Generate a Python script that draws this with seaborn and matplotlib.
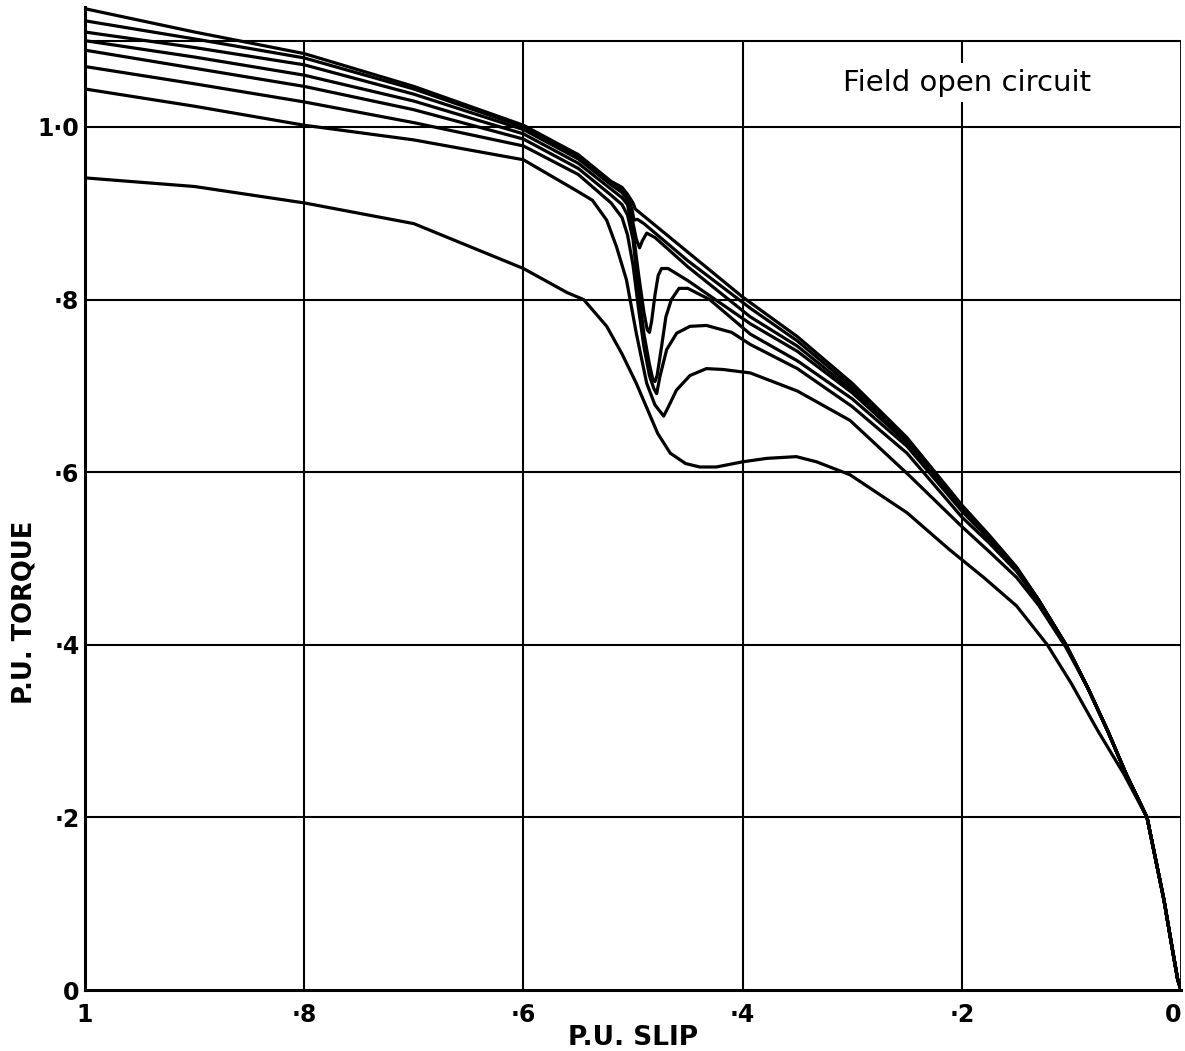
import numpy as np
import pandas as pd
import matplotlib
matplotlib.use("Agg")
import matplotlib.pyplot as plt
import seaborn as sns

# slip / torque (slip runs 1 -> 0)
tail_slip = [0.085, 0.0668, 0.05, 0.031, 0.0155, 0.0077, 0.003, 0.0]
tail_torque = [0.350, 0.300, 0.250, 0.200, 0.104, 0.046, 0.012, 0.0]

slip_a = [1.0, 0.9, 0.8, 0.7, 0.6, 0.55, 0.52, 0.51, 0.505, 0.50, 0.498, 0.45, 0.40,
          0.35, 0.30, 0.25, 0.20, 0.175, 0.15, 0.13, 0.105]
torque_a = [1.137, 1.110, 1.085, 1.047, 1.002, 0.968, 0.937, 0.930, 0.922, 0.912, 0.905, 0.855, 0.803,
            0.757, 0.703, 0.640, 0.562, 0.527, 0.490, 0.452, 0.400]

slip_b = [1.0, 0.9, 0.8, 0.7, 0.6, 0.55, 0.52, 0.51, 0.505, 0.501, 0.499, 0.496, 0.49, 0.45,
          0.393, 0.35, 0.30, 0.25, 0.20, 0.175, 0.15, 0.13, 0.105]
torque_b = [1.123, 1.102, 1.080, 1.044, 1.000, 0.966, 0.935, 0.928, 0.920, 0.905, 0.892, 0.893, 0.888, 0.845,
            0.790, 0.752, 0.699, 0.638, 0.560, 0.526, 0.489, 0.452, 0.400]

slip_c = [1.0, 0.9, 0.8, 0.7, 0.6, 0.55, 0.52, 0.51, 0.505, 0.501, 0.497, 0.494, 0.4915, 0.4875, 0.48, 0.45,
          0.393, 0.35, 0.30, 0.25, 0.20, 0.175, 0.15, 0.13, 0.105]
torque_c = [1.110, 1.092, 1.072, 1.038, 0.997, 0.963, 0.933, 0.924, 0.915, 0.895, 0.870, 0.860, 0.868, 0.877, 0.872, 0.838,
            0.780, 0.746, 0.695, 0.636, 0.559, 0.525, 0.489, 0.452, 0.400]

slip_d = [1.0, 0.9, 0.8, 0.7, 0.6, 0.55, 0.52, 0.51, 0.505, 0.50, 0.495, 0.49, 0.487, 0.485, 0.483, 0.480,
          0.477, 0.474, 0.468, 0.45, 0.393, 0.35, 0.30, 0.25, 0.20, 0.175, 0.15, 0.13, 0.105]
torque_d = [1.100, 1.081, 1.060, 1.030, 0.992, 0.958, 0.928, 0.918, 0.910, 0.880, 0.830, 0.785, 0.765, 0.762, 0.775, 0.805,
            0.828, 0.836, 0.836, 0.822, 0.772, 0.740, 0.692, 0.634, 0.557, 0.524, 0.488, 0.452, 0.400]

slip_e = [1.0, 0.9, 0.8, 0.7, 0.6, 0.55, 0.52, 0.51, 0.505, 0.50, 0.495, 0.49, 0.485, 0.482, 0.480, 0.478,
          0.474, 0.470, 0.465, 0.458, 0.45, 0.43, 0.393, 0.35, 0.30, 0.25, 0.20, 0.175, 0.15, 0.13, 0.105]
torque_e = [1.089, 1.068, 1.047, 1.020, 0.986, 0.952, 0.921, 0.910, 0.898, 0.870, 0.810, 0.760, 0.725, 0.708, 0.705, 0.712,
            0.745, 0.780, 0.800, 0.813, 0.813, 0.800, 0.760, 0.729, 0.685, 0.630, 0.555, 0.522, 0.487, 0.451, 0.400]

slip_f = [1.0, 0.9, 0.8, 0.7, 0.6, 0.55, 0.52, 0.51, 0.505, 0.50, 0.495, 0.49, 0.485, 0.481, 0.4784, 0.4754,
          0.4693, 0.4602, 0.448, 0.433, 0.41, 0.393, 0.35, 0.30, 0.25, 0.20, 0.175, 0.15, 0.13, 0.105]
torque_f = [1.070, 1.050, 1.029, 1.005, 0.978, 0.945, 0.912, 0.895, 0.875, 0.840, 0.790, 0.745, 0.712, 0.697, 0.691, 0.711,
            0.742, 0.761, 0.769, 0.770, 0.762, 0.748, 0.720, 0.676, 0.622, 0.548, 0.518, 0.485, 0.450, 0.399]

slip_g = [1.0, 0.9, 0.8, 0.7, 0.6, 0.55, 0.537, 0.524, 0.515, 0.506, 0.497, 0.4875, 0.48, 0.472, 0.468, 0.4604,
          0.448, 0.433, 0.418, 0.393, 0.35, 0.302, 0.247, 0.20, 0.175, 0.15, 0.13, 0.105]
torque_g = [1.044, 1.024, 1.002, 0.985, 0.962, 0.925, 0.915, 0.892, 0.861, 0.823, 0.761, 0.703, 0.678, 0.665, 0.675, 0.695,
            0.712, 0.720, 0.719, 0.715, 0.694, 0.660, 0.595, 0.537, 0.508, 0.478, 0.446, 0.397]

slip_h = [1.0, 0.9, 0.8, 0.7, 0.6, 0.56, 0.545, 0.524, 0.51, 0.497, 0.4775, 0.466, 0.452, 0.439, 0.424, 0.40,
          0.378, 0.351, 0.3325, 0.302, 0.25, 0.211, 0.18, 0.15, 0.122, 0.10, 0.0757, 0.052, 0.031]
torque_h = [0.941, 0.931, 0.912, 0.888, 0.836, 0.808, 0.800, 0.769, 0.737, 0.703, 0.645, 0.622, 0.610, 0.606, 0.606, 0.612,
            0.616, 0.618, 0.612, 0.597, 0.553, 0.510, 0.478, 0.445, 0.400, 0.355, 0.300, 0.250, 0.200]

x_ticks = [1.0, 0.8, 0.6, 0.4, 0.2, 0.0]
x_labels = ["1", "·8", "·6", "·4", "·2", "0"]
y_ticks = [0.0, 0.2, 0.4, 0.6, 0.8, 1.0]
y_labels = ["0", "·2", "·4", "·6", "·8", "1·0"]

curves = {
    "a": (slip_a + tail_slip, torque_a + tail_torque),
    "b": (slip_b + tail_slip, torque_b + tail_torque),
    "c": (slip_c + tail_slip, torque_c + tail_torque),
    "d": (slip_d + tail_slip, torque_d + tail_torque),
    "e": (slip_e + tail_slip, torque_e + tail_torque),
    "f": (slip_f + tail_slip, torque_f + tail_torque),
    "g": (slip_g + tail_slip, torque_g + tail_torque),
    "h": (slip_h + tail_slip[4:], torque_h + tail_torque[4:]),
}
rows = []
for name, (s, t) in curves.items():
    for i, (xv, yv) in enumerate(zip(s, t)):
        rows.append((name, i, xv, yv))
df = pd.DataFrame(rows, columns=["curve", "idx", "slip", "torque"])

sns.set_style("white")
plt.rcParams["font.family"] = ["DejaVu Sans"]
plt.rcParams["text.color"] = "black"
plt.rcParams["axes.labelcolor"] = "black"
plt.rcParams["xtick.color"] = "black"
plt.rcParams["ytick.color"] = "black"

fig = plt.figure(figsize=(11.85, 10.51), dpi=100)
ax = fig.add_axes([85 / 1185, 61 / 1051, 1096 / 1185, 983 / 1051])

# grid drawn by hand: it stops at 1.1 like the original
ax.hlines([0.2, 0.4, 0.6, 0.8, 1.0, 1.1], 1.0, 0.0, color="black", lw=1.5, zorder=1)
ax.vlines([0.8, 0.6, 0.4, 0.2], 0.0, 1.1, color="black", lw=1.5, zorder=1)
ax.vlines([0.0], 0.0, 1.1, color="black", lw=2.0, zorder=1)

sns.lineplot(data=df, x="slip", y="torque", units="curve", estimator=None, sort=False,
             color="black", lw=2.3, ax=ax, zorder=3)

ax.set_xlim(1.0, 0.0)
ax.set_ylim(0.0, 1.139)
for side in ["top", "right"]:
    ax.spines[side].set_visible(False)
for side in ["left", "bottom"]:
    ax.spines[side].set_linewidth(2.2)
    ax.spines[side].set_color("black")

ax.set_xticks(x_ticks)
ax.set_xticklabels(x_labels, fontsize=17, fontweight="bold")
ax.get_xticklabels()[-1].set_ha("right")
ax.set_yticks(y_ticks)
ax.set_yticklabels(y_labels, fontsize=17, fontweight="bold")
ax.tick_params(axis="x", length=0, pad=9)
ax.tick_params(axis="y", length=0, pad=4)

ax.set_xlabel("P.U. SLIP", fontsize=19, fontweight="bold")
ax.xaxis.label.set_va("center")
ax.xaxis.set_label_coords(0.5, -0.049)
ax.set_ylabel("P.U. TORQUE", fontsize=18.5, fontweight="bold")
ax.yaxis.label.set_va("center")
ax.yaxis.set_label_coords(-0.055, 0.384)

ax.text(0.195, 1.051, "Field open circuit", fontsize=21, ha="center", va="center",
        bbox=dict(facecolor="white", edgecolor="none", pad=4), zorder=2)

fig.savefig("out.png", dpi=100)
